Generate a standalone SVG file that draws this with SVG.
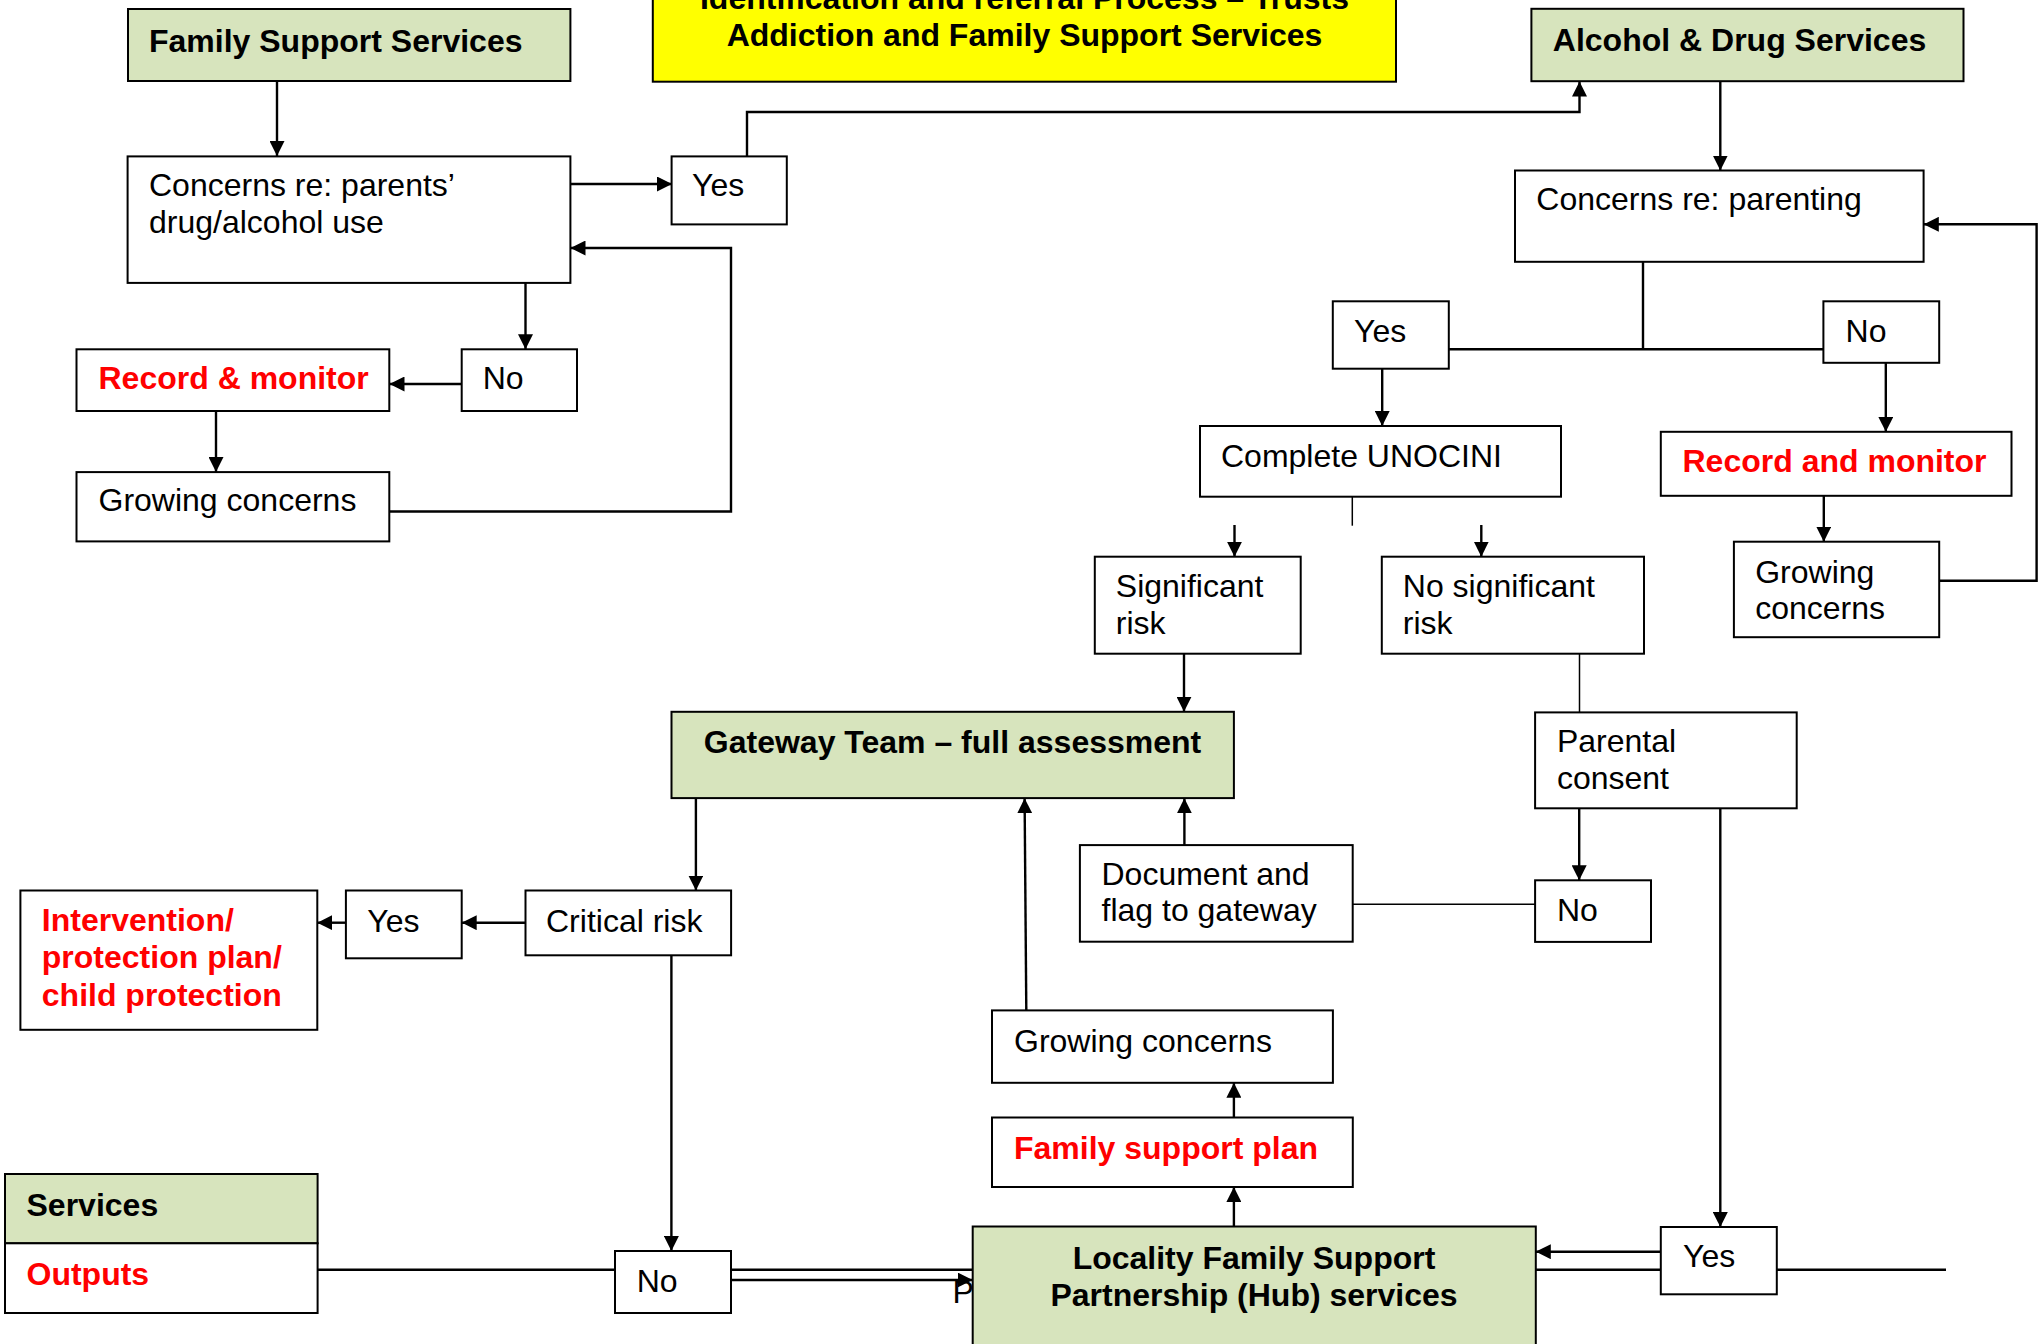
<svg xmlns="http://www.w3.org/2000/svg" width="2044" height="1344" viewBox="0 0 2044 1344">
<style>
.box{fill:#fff;stroke:#000;stroke-width:2}
.green{fill:#D7E4BD}
.yellow{fill:#FFFF00}
.t{font-family:"Liberation Sans",Arial,sans-serif;font-size:32px;fill:#000}
.b{font-weight:bold}
.red{fill:#FF0000}
.c{fill:none;stroke:#000;stroke-width:2.4}
.thin{stroke-width:1.5}
</style>
<defs>
<marker id="ah" markerUnits="userSpaceOnUse" viewBox="0 0 15 15" refX="15" refY="7.5" markerWidth="15" markerHeight="15" orient="auto">
<path d="M0,0 L15,7.5 L0,15 z" fill="#000"/>
</marker>
</defs>
<rect width="2044" height="1344" fill="#fff"/>
<g id="connectors">
<path class="c" d="M317.6,1269.8 H1946"/>
<path class="c" d="M277,81 V156" marker-end="url(#ah)"/>
<path class="c" d="M570.5,184 H672" marker-end="url(#ah)"/>
<path class="c" d="M747,156 V112 H1579.5 V81.5" marker-end="url(#ah)"/>
<path class="c" d="M525.5,283 V349.3" marker-end="url(#ah)"/>
<path class="c" d="M461.7,384 H389.5" marker-end="url(#ah)"/>
<path class="c" d="M216,411 V472" marker-end="url(#ah)"/>
<path class="c" d="M389.3,511.5 H731 V248 H570.5" marker-end="url(#ah)"/>
<path class="c" d="M1720.3,81.2 V170.5" marker-end="url(#ah)"/>
<path class="c" d="M1643,261.8 V349.3 M1448.8,349.3 H1823.4"/>
<path class="c" d="M1382.2,368.7 V426" marker-end="url(#ah)"/>
<path class="c" d="M1885.8,362.8 V431.8" marker-end="url(#ah)"/>
<path class="c" d="M1823.8,495.8 V541.7" marker-end="url(#ah)"/>
<path class="c" d="M1939.2,580.8 H2036.6 V224.3 H1923.8" marker-end="url(#ah)"/>
<path class="c thin" d="M1352.3,496.7 V525.7"/>
<path class="c" d="M1234.5,525 V556.7" marker-end="url(#ah)"/>
<path class="c" d="M1481.3,525 V556.7" marker-end="url(#ah)"/>
<path class="c" d="M1184,653.7 V711.8" marker-end="url(#ah)"/>
<path class="c thin" d="M1579.5,653.7 V712.4"/>
<path class="c" d="M1579.2,808.3 V880.3" marker-end="url(#ah)"/>
<path class="c" d="M1720.3,808.3 V1227" marker-end="url(#ah)"/>
<path class="c thin" d="M1352.7,904.2 H1535.2"/>
<path class="c" d="M1184.4,845 V798.3" marker-end="url(#ah)"/>
<path class="c" d="M1026.3,1010.4 L1024.6,798.3" marker-end="url(#ah)"/>
<path class="c" d="M1233.9,1117.5 V1082.8" marker-end="url(#ah)"/>
<path class="c" d="M1233.9,1226.4 V1187" marker-end="url(#ah)"/>
<path class="c" d="M695.9,797.7 V890.5" marker-end="url(#ah)"/>
<path class="c" d="M525.5,922.7 H461.7" marker-end="url(#ah)"/>
<path class="c" d="M345.9,922.7 H317.3" marker-end="url(#ah)"/>
<path class="c" d="M671.4,955.3 V1251" marker-end="url(#ah)"/>
<path class="c" d="M731,1280 H972.7" marker-end="url(#ah)"/>
<path class="c" d="M1660.8,1251.7 H1535.8" marker-end="url(#ah)"/>
</g>
<g id="title">
<rect class="box yellow" x="652.8" y="-60" width="743.2" height="141.7"/>
<text class="t b" x="1024.5" y="8.5" text-anchor="middle">Identification and referral Process – Trusts</text>
<text class="t b" x="1024.5" y="46" text-anchor="middle">Addiction and Family Support Services</text>
</g>
<g id="family-support-services">
<rect class="box green" x="128" y="9" width="442.4" height="72"/>
<text class="t b" x="149" y="51.5">Family Support Services</text>
</g>
<g id="concerns-drug">
<rect class="box" x="127.6" y="156.4" width="442.8" height="126.5"/>
<text class="t" x="149" y="196.4">Concerns re: parents’</text>
<text class="t" x="149" y="233">drug/alcohol use</text>
</g>
<g id="yes-top">
<rect class="box" x="671.6" y="156.4" width="115.2" height="68"/>
<text class="t" x="692" y="196.4">Yes</text>
</g>
<g id="no-left">
<rect class="box" x="461.7" y="349.3" width="115.3" height="61.7"/>
<text class="t" x="482.7" y="389.3">No</text>
</g>
<g id="record-monitor-left">
<rect class="box" x="76.5" y="349.3" width="312.8" height="61.7"/>
<text class="t b red" x="98.5" y="389.3">Record &amp; monitor</text>
</g>
<g id="growing-left">
<rect class="box" x="76.5" y="472.1" width="312.8" height="69.3"/>
<text class="t" x="98.5" y="510.7">Growing concerns</text>
</g>
<g id="alcohol-drug-services">
<rect class="box green" x="1531.4" y="8.8" width="432.1" height="72.4"/>
<text class="t b" x="1552.8" y="50.5">Alcohol &amp; Drug Services</text>
</g>
<g id="concerns-parenting">
<rect class="box" x="1515" y="170.5" width="408.6" height="91.3"/>
<text class="t" x="1536.3" y="210.4">Concerns re: parenting</text>
</g>
<g id="yes-mid">
<rect class="box" x="1332.8" y="301.3" width="116" height="67.4"/>
<text class="t" x="1354" y="341.7">Yes</text>
</g>
<g id="no-right">
<rect class="box" x="1823.4" y="301.3" width="115.8" height="61.5"/>
<text class="t" x="1845.6" y="341.8">No</text>
</g>
<g id="complete-unocini">
<rect class="box" x="1200" y="426" width="361" height="70.7"/>
<text class="t" x="1221" y="467.3">Complete UNOCINI</text>
</g>
<g id="record-monitor-right">
<rect class="box" x="1660.8" y="431.8" width="350.7" height="64"/>
<text class="t b red" x="1682.5" y="472.2">Record and monitor</text>
</g>
<g id="growing-right">
<rect class="box" x="1733.9" y="541.7" width="205.3" height="95.5"/>
<text class="t" x="1755.2" y="583">Growing</text>
<text class="t" x="1755.2" y="618.7">concerns</text>
</g>
<g id="significant-risk">
<rect class="box" x="1094.8" y="556.7" width="205.9" height="97"/>
<text class="t" x="1115.8" y="596.7">Significant</text>
<text class="t" x="1115.8" y="634">risk</text>
</g>
<g id="no-significant-risk">
<rect class="box" x="1381.8" y="556.7" width="262.2" height="97"/>
<text class="t" x="1402.8" y="596.7">No significant</text>
<text class="t" x="1402.8" y="634">risk</text>
</g>
<g id="gateway">
<rect class="box green" x="671.5" y="711.8" width="562.4" height="86.3"/>
<text class="t b" x="703.8" y="752.8">Gateway Team – full assessment</text>
</g>
<g id="parental-consent">
<rect class="box" x="1535.1" y="712.4" width="261.6" height="95.9"/>
<text class="t" x="1556.9" y="751.6">Parental</text>
<text class="t" x="1556.9" y="788.7">consent</text>
</g>
<g id="document-flag">
<rect class="box" x="1079.9" y="845.1" width="272.8" height="96.6"/>
<text class="t" x="1101.5" y="884.5">Document and</text>
<text class="t" x="1101.5" y="921.2">flag to gateway</text>
</g>
<g id="no-consent">
<rect class="box" x="1535.1" y="880.3" width="115.9" height="61.6"/>
<text class="t" x="1557" y="920.5">No</text>
</g>
<g id="critical-risk">
<rect class="box" x="525.5" y="890.5" width="205.6" height="64.8"/>
<text class="t" x="546" y="932">Critical risk</text>
</g>
<g id="yes-critical">
<rect class="box" x="345.9" y="890.5" width="115.8" height="67.8"/>
<text class="t" x="367.3" y="932">Yes</text>
</g>
<g id="intervention">
<rect class="box" x="20.4" y="890.5" width="296.9" height="139.3"/>
<text class="t b red" x="41.8" y="930.7">Intervention/</text>
<text class="t b red" x="41.8" y="968">protection plan/</text>
<text class="t b red" x="41.8" y="1006">child protection</text>
</g>
<g id="growing-mid">
<rect class="box" x="992" y="1010.4" width="340.9" height="72.4"/>
<text class="t" x="1014" y="1051.9">Growing concerns</text>
</g>
<g id="family-support-plan">
<rect class="box" x="992" y="1117.5" width="360.8" height="69.5"/>
<text class="t b red" x="1014" y="1158.6">Family support plan</text>
</g>
<g id="legend">
<rect class="box green" x="5" y="1174" width="312.6" height="69.3"/>
<text class="t b" x="26.5" y="1215.5">Services</text>
<rect class="box" x="5" y="1243.3" width="312.6" height="69.7"/>
<text class="t b red" x="26.5" y="1285.3">Outputs</text>
</g>
<g id="no-bottom">
<rect class="box" x="615" y="1251" width="116" height="62"/>
<text class="t" x="636.7" y="1292">No</text>
</g>
<text class="t" x="952.5" y="1303.3">P</text>
<g id="locality">
<rect class="box green" x="972.7" y="1226.5" width="563.1" height="200"/>
<text class="t b" x="1254" y="1268.7" text-anchor="middle">Locality Family Support</text>
<text class="t b" x="1254" y="1306" text-anchor="middle">Partnership (Hub) services</text>
</g>
<g id="yes-bottom">
<rect class="box" x="1660.8" y="1227" width="116" height="67.3"/>
<text class="t" x="1683" y="1267.3">Yes</text>
</g>
</svg>
